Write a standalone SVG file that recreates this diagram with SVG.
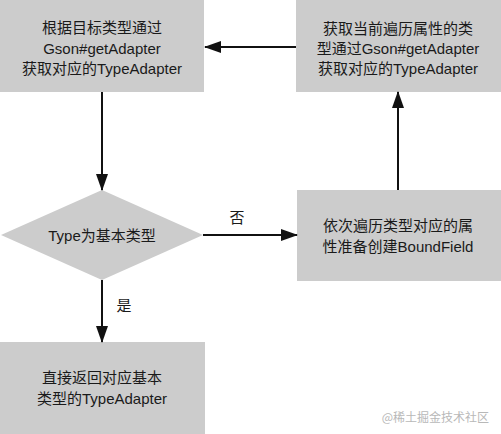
<svg xmlns="http://www.w3.org/2000/svg" width="501" height="434" viewBox="0 0 501 434">
<style>
.box{fill:#cccccc;}
.t{font-family:"Liberation Sans","Noto Sans CJK SC",sans-serif;font-size:15px;fill:#1a1a1a;text-anchor:middle;dominant-baseline:central;}
.lbl{font-family:"Liberation Sans","Noto Sans CJK SC",sans-serif;font-size:15px;fill:#1a1a1a;text-anchor:middle;dominant-baseline:central;}
.wm{font-family:"Noto Sans CJK SC",sans-serif;font-size:12px;fill:#b8b8b8;text-anchor:end;dominant-baseline:central;}
.c{stroke:#111111;stroke-width:2;fill:none;marker-end:url(#ah);}
</style>
<defs>
<marker id="ah" markerUnits="userSpaceOnUse" markerWidth="17" markerHeight="12" refX="16" refY="6" orient="auto">
<path d="M0,0 L17,6 L0,12 z" fill="#111111"/>
</marker>
</defs>
<rect width="501" height="434" fill="#ffffff"/>
<g id="node-start">
<rect class="box" x="0" y="0" width="204" height="92"/>
<text class="t" x="102" y="27">根据目标类型通过</text>
<text class="t" x="102" y="48">Gson#getAdapter</text>
<text class="t" x="102" y="68">获取对应的TypeAdapter</text>
</g>
<g id="node-decision">
<polygon class="box" points="102,190 203,235 102,280 1,235"/>
<text class="t" x="102" y="235">Type为基本类型</text>
</g>
<g id="node-basic">
<rect class="box" x="0" y="342" width="205" height="92"/>
<text class="t" x="102" y="377">直接返回对应基本</text>
<text class="t" x="102" y="398">类型的TypeAdapter</text>
</g>
<g id="node-iterate">
<rect class="box" x="297" y="190" width="204" height="91"/>
<text class="t" x="398" y="225">依次遍历类型对应的属</text>
<text class="t" x="398" y="246">性准备创建BoundField</text>
</g>
<g id="node-field">
<rect class="box" x="296" y="0" width="205" height="92"/>
<text class="t" x="398" y="28">获取当前遍历属性的类</text>
<text class="t" x="398" y="48">型通过Gson#getAdapter</text>
<text class="t" x="398" y="68">获取对应的TypeAdapter</text>
</g>
<g id="connectors">
<line class="c" x1="102" y1="92" x2="102" y2="190"/>
<line class="c" x1="203" y1="235" x2="297" y2="235"/>
<line class="c" x1="398" y1="190" x2="398" y2="92"/>
<line class="c" x1="296" y1="47" x2="205" y2="47"/>
<line class="c" x1="102" y1="280" x2="102" y2="342"/>
<text class="lbl" x="237" y="217">否</text>
<text class="lbl" x="124" y="305">是</text>
</g>
<text class="wm" x="489" y="416">@稀土掘金技术社区</text>
</svg>
